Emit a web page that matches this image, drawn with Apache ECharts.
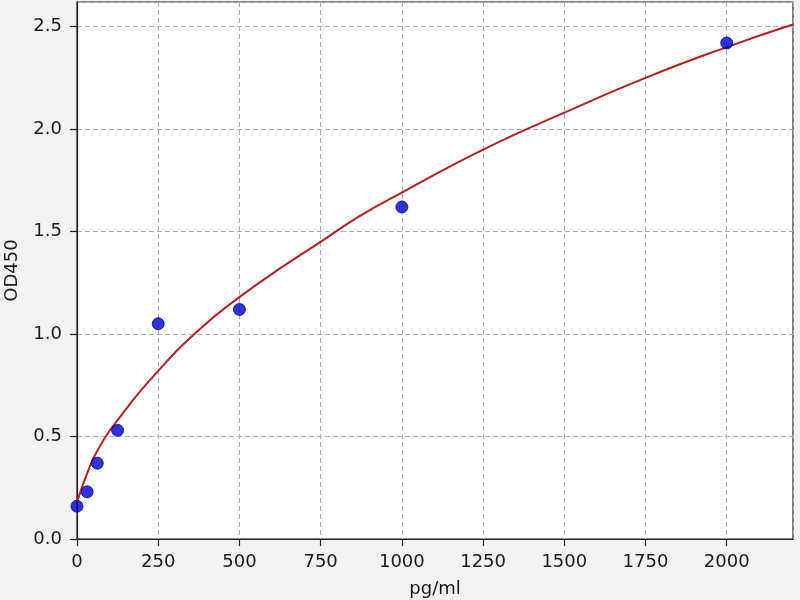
<!DOCTYPE html>
<html>
<head>
<meta charset="utf-8">
<script src="https://cdn.jsdelivr.net/npm/echarts@6/dist/echarts.min.js"></script>
<style>
  html, body { margin: 0; padding: 0; background: #f2f2f2; }
  #chart { width: 800px; height: 600px; }
</style>
</head>
<body>
<div id="chart"></div>
<script>
// standard points
const standardConc = [0, 31.25, 62.5, 125, 250, 500, 1000, 2000];
const standardOD = [0.16, 0.23, 0.37, 0.53, 1.05, 1.12, 1.62, 2.42];

// fitted curve
const curveConc = [0, 31.25, 62.5, 125, 250, 375, 500, 625, 750, 875, 1000, 1250, 1500, 1750, 2000, 2204];
const curveOD = [0.18, 0.32, 0.43, 0.58, 0.82, 1.02, 1.18, 1.32, 1.45, 1.58, 1.69, 1.90, 2.08, 2.25, 2.40, 2.51];

const xTicks = [0, 250, 500, 750, 1000, 1250, 1500, 1750, 2000];

const font = 'DejaVu Sans';
const chart = echarts.init(document.getElementById('chart'));

// zip x/y lists for the library
function pairs(xs, ys) {
    return xs.map((x, i) => [x, ys[i]]);
}

chart.setOption({
    backgroundColor: '#f2f2f2',
    animation: false,
    grid: {
        left: 77, right: 7, top: 2, bottom: 61,
        outerBoundsMode: 'none',
        containLabel: false,
        show: true,
        backgroundColor: '#ffffff',
        borderColor: '#222',
        borderWidth: 1.2
    },
    xAxis: {
        type: 'value',
        min: 0, max: 2204, interval: 250,
        name: 'pg/ml',
        nameLocation: 'middle',
        nameGap: 41,
        nameTextStyle: { fontFamily: font, fontSize: 18, color: '#1a1a1a' },
        axisLine: { onZero: false, lineStyle: { color: '#222', width: 1.2 } },
        axisTick: { length: 7, lineStyle: { color: '#222', width: 1.2 } },
        axisLabel: {
            fontFamily: font, fontSize: 18, color: '#1a1a1a', margin: 14,
            showMaxLabel: false,
            formatter: v => xTicks.includes(v) ? String(v) : ''
        },
        splitLine: { show: true, lineStyle: { color: '#b0b0b0', type: [5, 3], width: 1 } }
    },
    yAxis: {
        type: 'value',
        min: 0, max: 2.62, interval: 0.5,
        name: 'OD450',
        nameLocation: 'middle',
        nameGap: 56,
        nameRotate: 90,
        nameTextStyle: { fontFamily: font, fontSize: 18, color: '#1a1a1a' },
        axisLine: { show: true, onZero: false, lineStyle: { color: '#222', width: 1.2 } },
        axisTick: { show: true, length: 7, lineStyle: { color: '#222', width: 1.2 } },
        axisLabel: {
            fontFamily: font, fontSize: 18, color: '#1a1a1a', margin: 15,
            showMaxLabel: false,
            formatter: v => v.toFixed(1)
        },
        splitLine: { show: true, lineStyle: { color: '#b0b0b0', type: [5, 3], width: 1 } }
    },
    series: [
        {
            type: 'line',
            data: pairs(curveConc, curveOD),
            smooth: 0.5,
            showSymbol: false,
            lineStyle: { color: '#b22222', width: 2 },
            z: 2
        },
        {
            type: 'scatter',
            data: pairs(standardConc, standardOD),
            symbolSize: 12,
            itemStyle: { color: '#0000c8', borderColor: '#00009a', borderWidth: 1 },
            z: 3
        }
    ]
});
</script>
</body>
</html>
